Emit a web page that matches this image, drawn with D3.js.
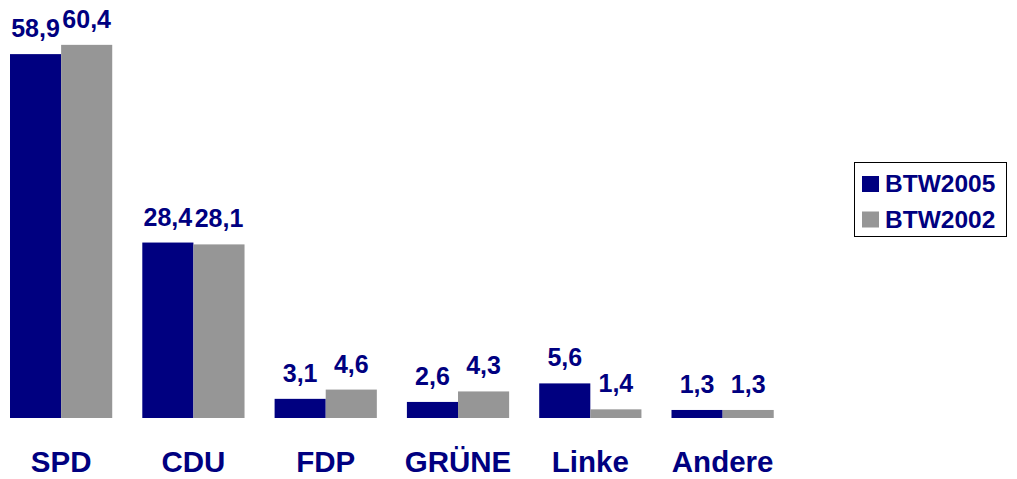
<!DOCTYPE html>
<html><head><meta charset="utf-8">
<script src="https://cdn.jsdelivr.net/npm/d3@7"></script>
<style>body{margin:0;background:#fff}svg{display:block}text{font-family:"Liberation Sans",Arial,sans-serif;font-weight:bold;fill:#000080}</style>
</head><body><svg id="c" width="1017" height="479"></svg>
<script>
const categories = ["SPD","CDU","FDP","GRÜNE","Linke","Andere"];
const seriesNames = ["BTW2005","BTW2002"];
const btw2005 = [58.9, 28.4, 3.1, 2.6, 5.6, 1.3];
const btw2002 = [60.4, 28.1, 4.6, 4.3, 1.4, 1.3];
const seriesValues = [btw2005, btw2002];
const colors = ["#000080", "#969696"];
const fmt = v => v.toFixed(1).replace(".", ",");

const svg = d3.select("#c");
const step = 132.3;
const x = d3.scaleBand().domain(categories).range([10 - 15 * step / 132, 10 - 15 * step / 132 + 6 * step]).paddingInner(30/132).paddingOuter(15/132);
const xs = d3.scaleBand().domain(seriesNames).range([0, x.bandwidth()]);
const y = d3.scaleLinear().domain([0, 60]).range([418, 418 - 60 * 6.178]);

const data = [];
categories.forEach((c, i) => seriesNames.forEach((s, j) => data.push({c, s, j, v: seriesValues[j][i]})));

svg.append("g").selectAll("rect").data(data).join("rect")
  .attr("x", d => x(d.c) + xs(d.s))
  .attr("y", d => y(d.v))
  .attr("width", xs.bandwidth())
  .attr("height", d => y(0) - y(d.v))
  .attr("fill", d => colors[d.j]);

svg.append("g").selectAll("text").data(data).join("text")
  .attr("x", d => x(d.c) + xs(d.s) + xs.bandwidth() / 2)
  .attr("y", d => y(d.v) - 17)
  .attr("text-anchor", "middle")
  .style("font-size", "25px")
  .text(d => fmt(d.v));

const xAxis = svg.append("g").attr("transform", "translate(0,418)")
  .call(d3.axisBottom(x).tickSize(0).tickPadding(0));
xAxis.select(".domain").remove();
xAxis.selectAll("text").attr("dy", null).attr("y", 54)
  .attr("fill", "#000080").style("font-size", "29.5px")
  .style("font-family", '"Liberation Sans",Arial,sans-serif').style("font-weight", "bold");

const lg = svg.append("g");
lg.append("rect").attr("x", 854.5).attr("y", 162.5).attr("width", 152).attr("height", 74)
  .attr("fill", "#fff").attr("stroke", "#000").attr("stroke-width", 1);
const li = lg.selectAll("g.li").data(seriesNames).join("g").attr("class", "li")
  .attr("transform", (d, i) => `translate(0,${i * 35.5})`);
li.append("rect").attr("x", 862).attr("y", 176).attr("width", 17).attr("height", 16).attr("fill", (d, i) => colors[i]);
li.append("text").attr("x", 885).attr("y", 192).style("font-size", "24.5px").text(d => d);
</script></body></html>
